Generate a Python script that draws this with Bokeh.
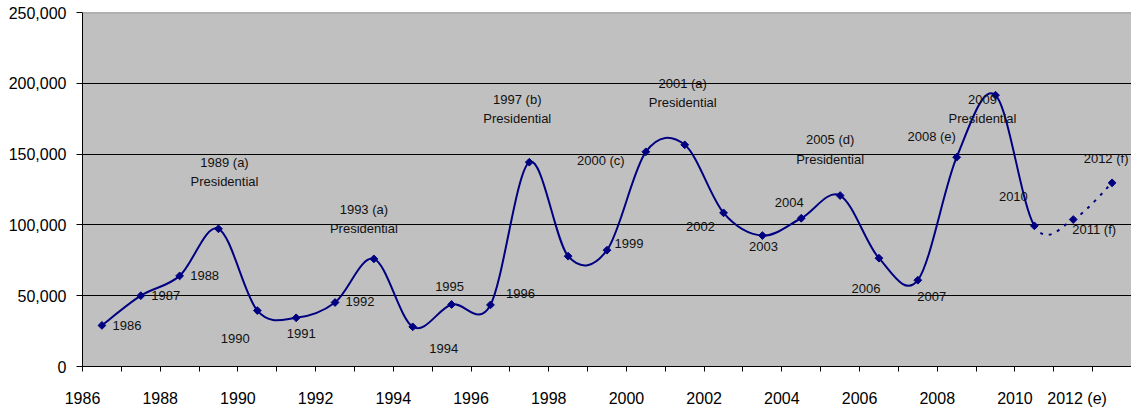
import numpy as np
from bokeh.plotting import figure
from bokeh.models import FixedTicker, NumeralTickFormatter, Span, ColumnDataSource
from bokeh.core.properties import value
from bokeh.embed import file_html
from bokeh.resources import INLINE

years = list(range(1986, 2013))
values = [29000, 50000, 64000, 97250, 39500, 34400, 45200, 76000, 28000, 43800,
          43500, 144300, 77900, 82150, 151600, 156550, 108500, 92500, 104700, 120750,
          76500, 60950, 147800, 191600, 99350, 103800, 129700]
point_labels = ["1986", "1987", "1988", "1989 (a)\nPresidential", "1990", "1991", "1992",
                "1993 (a)\nPresidential", "1994", "1995", "1996", "1997 (b)\nPresidential", "",
                "1999", "2000 (c)", "2001 (a)\nPresidential", "2002", "2003", "2004",
                "2005 (d)\nPresidential", "2006", "2007", "2008 (e)", "2009\nPresidential",
                "2010", "2011 (f)", "2012 (f)"]
forecast = [lab.endswith("(f)") for lab in point_labels]
x_tick_labels = ["1986", "1988", "1990", "1992", "1994", "1996", "1998", "2000", "2002",
                 "2004", "2006", "2008", "2010", "2012 (e)"]
y_ticks = [0, 50000, 100000, 150000, 200000, 250000]

# label offsets in screen pixels (dx right, dy down)
label_dx = [25, 25, 25, 6, -22, 5, 25, -10, 31, -2, 30, -12, 0, 22, -45, -2, -23, 1, -12, -10,
            -13, 14, -25, -13, -21, 21, -6]
label_dy = [0, 0, 0, -57, 28, 16, -1, -40, 22, -18, -11, -53, 0, -7, 9, -52, 14, 11, -16, -46,
            30, 16, -21, 14, -29, 10, -24]

n = len(years)
x = np.arange(n) + 0.5
y = np.array(values, dtype=float)

FONT = "Liberation Sans"
NAVY = "#000080"

p = figure(width=1131, height=411, output_backend="svg", toolbar_location=None,
           x_range=(0, n), y_range=(0, 250000),
           min_border_left=82, min_border_right=0, min_border_top=12, min_border_bottom=45)
p.background_fill_color = "#C0C0C0"
p.border_fill_color = "white"
p.outline_line_color = None

# x axis: tick marks at category boundaries, labels every second boundary
major_pos = [2 * k for k in range(len(x_tick_labels) - 1)] + [n - 1.4]
p.xaxis.ticker = FixedTicker(ticks=major_pos, minor_ticks=list(range(n + 1)))
p.xaxis.major_label_overrides = {pos: lab for pos, lab in zip(major_pos, x_tick_labels)}
p.yaxis.ticker = FixedTicker(ticks=y_ticks)
p.yaxis.formatter = NumeralTickFormatter(format="0,0")
for ax in (p.xaxis[0], p.yaxis[0]):
    ax.axis_line_color = "black"
    ax.axis_line_width = 1
    ax.major_tick_line_color = "black"
    ax.major_tick_in = 0
    ax.major_label_text_font = FONT
    ax.major_label_text_font_size = "16px"
    ax.major_label_text_color = "black"
p.xaxis.major_tick_out = 0
p.xaxis.major_tick_line_color = None
p.xaxis.minor_tick_line_color = "black"
p.xaxis.minor_tick_in = 0
p.xaxis.minor_tick_out = 5
p.yaxis.minor_tick_line_color = None
p.yaxis.major_tick_out = 6
p.xaxis.major_label_standoff = 18
p.yaxis.major_label_standoff = 10

p.xgrid.grid_line_color = None
p.ygrid.ticker = FixedTicker(ticks=y_ticks[1:-1])
p.ygrid.grid_line_color = "black"
p.ygrid.grid_line_width = 1
p.add_layout(Span(location=y_ticks[-1], dimension="width", line_color="#808080", line_width=1.5))

# smoothed line (Catmull-Rom style Bezier, like Excel smoothing)
xp = np.concatenate([[x[0]], x, [x[-1]]])
yp = np.concatenate([[y[0]], y, [y[-1]]])
keys = ["x0", "y0", "x1", "y1", "cx0", "cy0", "cx1", "cy1"]
solid = {k: [] for k in keys}
dashed = {k: [] for k in keys}
for i in range(n - 1):
    d = dashed if forecast[i + 1] else solid
    d["x0"].append(x[i]); d["y0"].append(y[i])
    d["x1"].append(x[i + 1]); d["y1"].append(y[i + 1])
    d["cx0"].append(x[i] + (xp[i + 2] - xp[i]) / 6.0)
    d["cy0"].append(y[i] + (yp[i + 2] - yp[i]) / 6.0)
    d["cx1"].append(x[i + 1] - (xp[i + 3] - xp[i + 1]) / 6.0)
    d["cy1"].append(y[i + 1] - (yp[i + 3] - yp[i + 1]) / 6.0)

p.bezier(x0="x0", y0="y0", x1="x1", y1="y1", cx0="cx0", cy0="cy0", cx1="cx1", cy1="cy1",
         source=ColumnDataSource(solid), line_color=NAVY, line_width=2)
p.bezier(x0="x0", y0="y0", x1="x1", y1="y1", cx0="cx0", cy0="cy0", cx1="cx1", cy1="cy1",
         source=ColumnDataSource(dashed), line_color=NAVY, line_width=2, line_dash="3 6")

p.scatter(x, y, marker="square", angle=np.pi / 4, size=5.5, fill_color=NAVY, line_color=NAVY)

src = ColumnDataSource(dict(x=x, y=y, text=point_labels, dx=label_dx, dy=label_dy))
p.text(x="x", y="y", text="text", x_offset="dx", y_offset="dy", source=src,
       text_font=value(FONT), text_font_size="13px", text_color="#111111",
       text_align="center", text_baseline="middle", text_line_height=1.3)

open("out.html", "w").write(file_html(p, INLINE))
